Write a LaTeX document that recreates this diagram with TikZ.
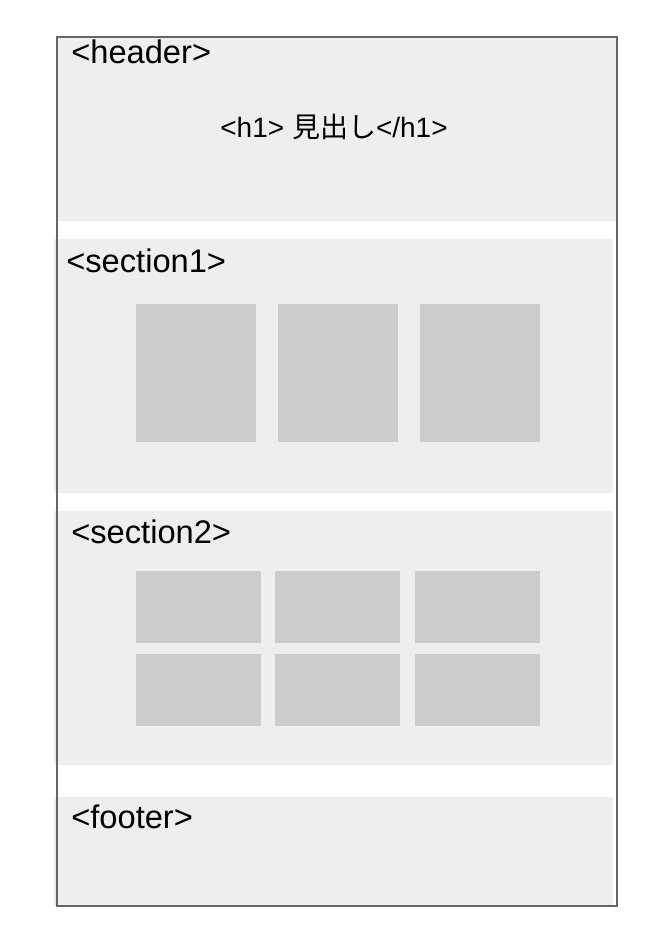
\documentclass[tikz,border=0pt]{standalone}
\usepackage{fontspec}
\setmainfont{Liberation Sans}
\newfontfamily\cjk{Noto Sans CJK JP}
\begin{document}
\begin{tikzpicture}[x=0.75pt,y=-0.75pt,
  band/.style={fill=bandgray,draw=none},
  tile/.style={fill=tilegray,draw=none},
  lbl/.style={anchor=base west,inner sep=0pt,font=\fontsize{24.5}{28}\selectfont},
  h1txt/.style={anchor=base,inner sep=0pt,font=\fontsize{21}{25}\selectfont}]
\definecolor{bandgray}{HTML}{EEEEEE}
\definecolor{tilegray}{HTML}{CCCCCC}
\definecolor{bordergray}{HTML}{666666}
\useasboundingbox (0,0) rectangle (660,928);
\fill[white] (0,0) rectangle (660,928);
% bands
\fill[band] (57,37) rectangle (617,221);
\fill[band] (54,239) rectangle (613,493);
\fill[band] (54,511) rectangle (613,765);
\fill[band] (54,797) rectangle (613,906);
% section1 tiles
\fill[tile] (136,304) rectangle (256,442);
\fill[tile] (278,304) rectangle (398,442);
\fill[tile] (420,304) rectangle (540,442);
% section2 tiles
\fill[tile] (136,571) rectangle (261,643);
\fill[tile] (275,571) rectangle (400,643);
\fill[tile] (415,571) rectangle (540,643);
\fill[tile] (136,654) rectangle (261,726);
\fill[tile] (275,654) rectangle (400,726);
\fill[tile] (415,654) rectangle (540,726);
% border
\draw[bordergray,line width=1.2pt] (57,37) rectangle (617,906);
% labels
\node[lbl] (hdr) at (71,63) {<header>};
\node[h1txt] (h1) at (334,137) {<h1> {\cjk 見出し}</h1>};
\node[lbl] (s1) at (66,272) {<section1>};
\node[lbl] (s2) at (71,543) {<section2>};
\node[lbl] (ftr) at (71,828) {<footer>};
\end{tikzpicture}
\end{document}
